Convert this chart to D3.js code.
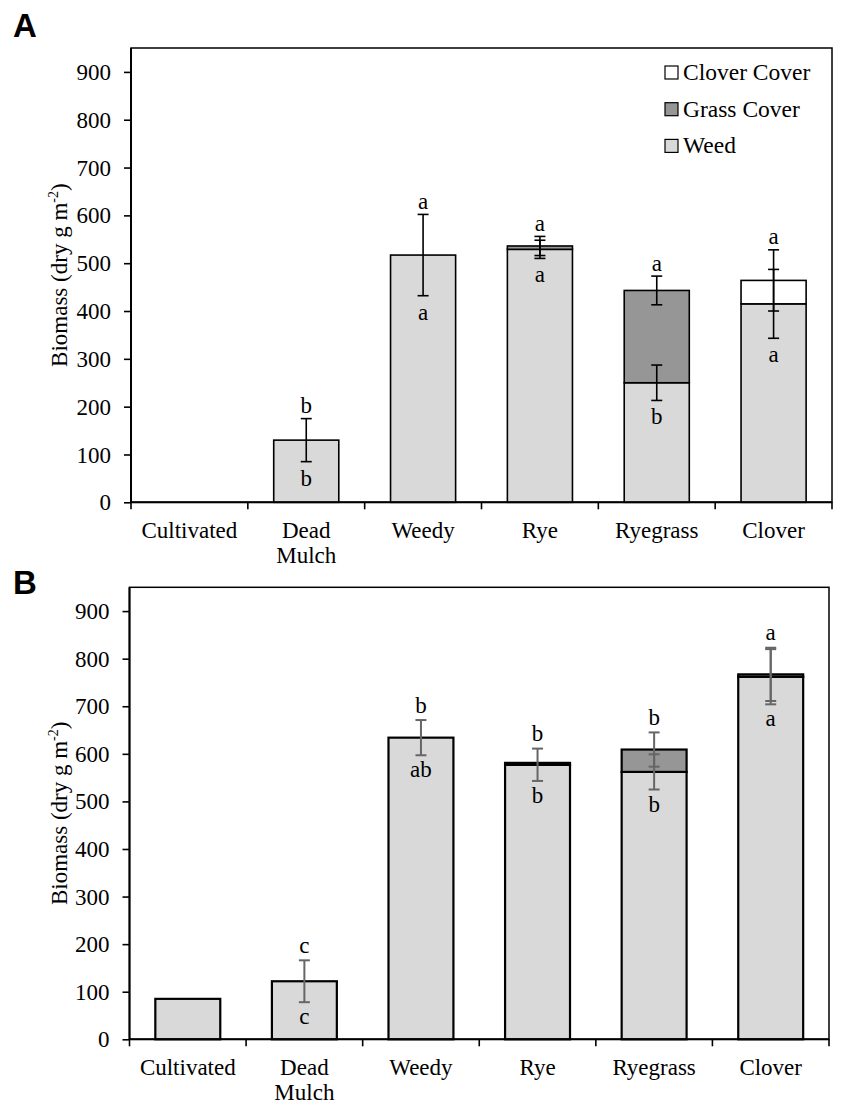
<!DOCTYPE html>
<html>
<head>
<meta charset="utf-8">
<script src="https://cdn.jsdelivr.net/npm/d3@7"></script>
<style>
  html, body { margin: 0; padding: 0; background: #fff; }
  svg { display: block; }
  text { font-family: "Liberation Serif", "Times New Roman", serif; fill: #000; }
  text.panel { font-family: "Liberation Sans", Arial, sans-serif; font-weight: bold; }
</style>
</head>
<body>
<svg id="chart" width="847" height="1116"></svg>
<script>
// ---------------- DATA ----------------
const categories = ["Cultivated", "Dead\nMulch", "Weedy", "Rye", "Ryegrass", "Clover"];
const yTicks = [0, 100, 200, 300, 400, 500, 600, 700, 800, 900];
const seriesNames = ["Clover Cover", "Grass Cover", "Weed"];

// Panel A
const weedA   = [0, 130, 517, 529, 250, 415];
const grassA  = [0, 0, 0, 7, 193, 0];
const cloverA = [0, 0, 0, 0, 0, 49];
const weedErrA  = [null, 45, 85, 19, 37, 72];
const totalErrA = [null, null, null, 20, 30, 64];
const lettersTopA    = ["", "b", "a", "a", "a", "a"];
const lettersBottomA = ["", "b", "a", "a", "b", "a"];

// Panel B
const weedB   = [85, 122, 634, 577, 562, 762];
const grassB  = [0, 0, 0, 4, 47, 0];
const cloverB = [0, 0, 0, 0, 0, 5];
const weedErrB  = [null, 44, 37, 34, 37, 58];
const totalErrB = [null, null, null, null, 36, 56];
const lettersTopB    = ["", "c", "b", "b", "b", "a"];
const lettersBottomB = ["", "c", "ab", "b", "b", "a"];

// ---------------- STYLE ----------------
const FILL_WEED = "#d9d9d9", FILL_GRASS = "#969696", FILL_CLOVER = "#ffffff";
const svg = d3.select("#chart");

function drawPanel(p) {
  const g = svg.append("g");
  const x = d3.scaleBand().domain(categories).range([p.left, p.right])
    .paddingInner(0.443).paddingOuter(0.2215);
  const y = d3.scaleLinear().domain([0, 950]).range([p.bottom, p.top]);

  // frame
  g.append("rect").attr("x", p.left).attr("y", p.top)
    .attr("width", p.right - p.left).attr("height", p.bottom - p.top)
    .attr("fill", "none").attr("stroke", "#000").attr("stroke-width", 1.5);

  // stacked data
  const rows = categories.map((c, i) => ({
    cat: c, weed: p.weed[i], grass: p.grass[i], clover: p.clover[i],
    weedErr: p.weedErr[i], totalErr: p.totalErr[i],
    top: p.lettersTop[i], bottom: p.lettersBottom[i]
  }));
  const stack = d3.stack().keys(["weed", "grass", "clover"])(rows);
  const fills = { weed: FILL_WEED, grass: FILL_GRASS, clover: FILL_CLOVER };

  stack.forEach(layer => {
    g.append("g").selectAll("rect")
      .data(layer.filter(d => d[1] - d[0] > 0))
      .join("rect")
      .attr("x", d => x(d.data.cat))
      .attr("width", x.bandwidth())
      .attr("y", d => y(d[1]))
      .attr("height", d => y(d[0]) - y(d[1]))
      .attr("fill", fills[layer.key])
      .attr("stroke", "#000").attr("stroke-width", p.barStroke);
  });

  // error bars
  const capW = 5.5;
  function errBar(cx, val, err) {
    const y1 = y(val + err), y2 = y(val - err);
    const eg = g.append("g").attr("stroke", p.errColor).attr("stroke-width", p.errWidth);
    eg.append("line").attr("x1", cx).attr("x2", cx).attr("y1", y1).attr("y2", y2);
    eg.append("line").attr("x1", cx - capW).attr("x2", cx + capW).attr("y1", y1).attr("y2", y1);
    eg.append("line").attr("x1", cx - capW).attr("x2", cx + capW).attr("y1", y2).attr("y2", y2);
  }
  rows.forEach(r => {
    const cx = x(r.cat) + x.bandwidth() / 2;
    const tot = r.weed + r.grass + r.clover;
    let hi = null, lo = null;
    if (r.weedErr != null) {
      errBar(cx, r.weed, r.weedErr);
      hi = r.weed + r.weedErr; lo = r.weed - r.weedErr;
    }
    if (r.totalErr != null) {
      errBar(cx, tot, r.totalErr);
      hi = Math.max(hi, tot + r.totalErr); lo = Math.min(lo, tot - r.totalErr);
    }
    if (hi != null && r.top) {
      g.append("text").attr("x", cx).attr("y", y(hi) - p.topOff)
        .attr("text-anchor", "middle").attr("font-size", 23).text(r.top);
    }
    if (lo != null && r.bottom) {
      g.append("text").attr("x", cx).attr("y", y(lo) + p.botOff)
        .attr("text-anchor", "middle").attr("font-size", 23).text(r.bottom);
    }
  });

  // y axis
  const yAxis = d3.axisLeft(y).tickValues(yTicks).tickSize(7).tickPadding(13);
  const ya = g.append("g").attr("transform", `translate(${p.left},0)`).call(yAxis);
  ya.select(".domain").remove();
  ya.selectAll(".tick line").attr("stroke", "#000").attr("stroke-width", 1.6);
  ya.selectAll(".tick text").attr("font-size", 23).attr("fill", "#000").attr("dy", "0.33em");
  g.append("line").attr("x1", p.left).attr("x2", p.left).attr("y1", p.top).attr("y2", p.bottom)
    .attr("stroke", "#000").attr("stroke-width", 2);

  // x axis: ticks at band boundaries
  g.append("line").attr("x1", p.left).attr("x2", p.right).attr("y1", p.bottom).attr("y2", p.bottom)
    .attr("stroke", "#000").attr("stroke-width", 2);
  const step = x.step();
  d3.range(categories.length + 1).forEach(i => {
    const tx = p.left + i * step;
    g.append("line").attr("x1", tx).attr("x2", tx).attr("y1", p.bottom).attr("y2", p.bottom + 7)
      .attr("stroke", "#000").attr("stroke-width", 1.6);
  });
  categories.forEach(c => {
    const cx = x(c) + x.bandwidth() / 2;
    const t = g.append("text").attr("x", cx).attr("y", p.bottom + 36)
      .attr("text-anchor", "middle").attr("font-size", 23);
    c.split("\n").forEach((line, j) => {
      t.append("tspan").attr("x", cx).attr("dy", j === 0 ? 0 : 25).text(line);
    });
  });

  // y title
  const mid = (p.top + p.bottom) / 2;
  const yt = g.append("text").attr("transform", `translate(66.5,${mid}) rotate(-90)`)
    .attr("text-anchor", "middle").attr("font-size", 23);
  yt.append("tspan").text("Biomass (dry g m");
  yt.append("tspan").attr("font-size", 14).attr("dy", -9).text("-2");
  yt.append("tspan").attr("dy", 9).text(")");

  // panel letter
  svg.append("text").attr("class", "panel").attr("x", p.labelX).attr("y", p.labelY)
    .attr("font-size", 33).text(p.label);

  return { x, y };
}

drawPanel({
  label: "A", labelX: 13, labelY: 36.5,
  left: 131, right: 832, top: 48, bottom: 502.3,
  weed: weedA, grass: grassA, clover: cloverA,
  weedErr: weedErrA, totalErr: totalErrA,
  lettersTop: lettersTopA, lettersBottom: lettersBottomA,
  errColor: "#000", errWidth: 1.6, barStroke: 1.6, topOff: 5.5, botOff: 24
});

drawPanel({
  label: "B", labelX: 13, labelY: 593.5,
  left: 129.5, right: 829, top: 587.3, bottom: 1039.3,
  weed: weedB, grass: grassB, clover: cloverB,
  weedErr: weedErrB, totalErr: totalErrB,
  lettersTop: lettersTopB, lettersBottom: lettersBottomB,
  errColor: "#666", errWidth: 2, barStroke: 2.2, topOff: 7.5, botOff: 22
});

// legend (panel A)
const legFills = [FILL_CLOVER, FILL_GRASS, FILL_WEED];
const leg = svg.append("g");
seriesNames.forEach((name, i) => {
  const by = 80 + i * 36.7;
  leg.append("rect").attr("x", 665).attr("y", by - 14).attr("width", 13).attr("height", 13)
    .attr("fill", legFills[i]).attr("stroke", "#000").attr("stroke-width", 1.2);
  leg.append("text").attr("x", 683).attr("y", by).attr("font-size", 23.5).text(name);
});
</script>
</body>
</html>
